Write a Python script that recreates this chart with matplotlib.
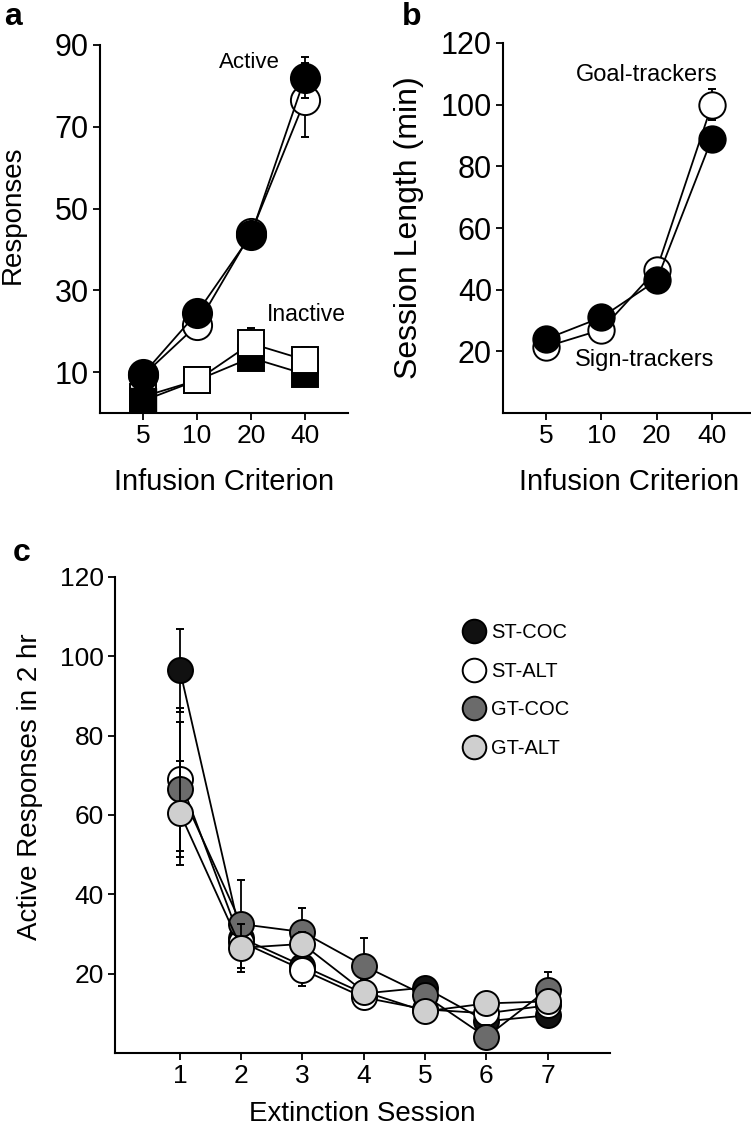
import numpy as np
import matplotlib
matplotlib.use("Agg")
import matplotlib.pyplot as plt
from matplotlib.lines import Line2D

plt.rcParams['font.family'] = ['Liberation Sans', 'DejaVu Sans']

# panel a / b : infusion criterion
criterion = ['5', '10', '20', '40']

active_st = [9.5, 24.5, 43.5, 82]
active_st_err = [1, 2, 2, 5]
active_gt = [9.2, 21.5, 44, 76.5]
active_gt_err = [1, 2, 2, 9]
inactive_st = [3, 8, 13.5, 9.5]
inactive_st_err = [0.5, 0.5, 1, 1]
inactive_gt = [4, 8, 17, 13]
inactive_gt_err = [0.5, 1, 3.8, 3.2]

session_st = [24, 31, 43, 89]
session_st_err = [1, 1, 2, 3]
session_gt = [21.5, 27, 46.5, 100]
session_gt_err = [1, 1, 2, 5]

# panel c : extinction
sessions = [1, 2, 3, 4, 5, 6, 7]
st_coc = [96.5, 29, 22, 15, 16.5, 8, 9.5]
st_coc_err = [10.5, 3, 3, 2, 2, 2, 2]
st_alt = [69, 28, 21, 14, 11, 10, 12]
st_alt_err = [18, 4, 4, 3, 2, 2, 2]
gt_coc = [66.5, 32.5, 30.5, 22, 14.5, 4, 16]
gt_coc_err = [17, 11, 6, 7, 3, 3, 4.5]
gt_alt = [60.5, 26.5, 27.5, 15.5, 10.5, 12.5, 13]
gt_alt_err = [13, 6, 3, 3, 2, 2, 2]
group_names = ['ST-COC', 'ST-ALT', 'GT-COC', 'GT-ALT']
group_colors = ['#111111', 'white', '#6b6b6b', '#cfcfcf']

W, H = 751, 1133
fig = plt.figure(figsize=(W / 100, H / 100), dpi=100)


def box(l, t, r, b):
    return [l / W, 1 - b / H, (r - l) / W, (b - t) / H]


def style(ax, tsize):
    for s in ['top', 'right']:
        ax.spines[s].set_visible(False)
    for s in ['left', 'bottom']:
        ax.spines[s].set_linewidth(1.5)
    ax.tick_params(direction='out', length=5, width=1.3, labelsize=tsize, pad=3)


def series(ax, x, y, e, fc, marker='o', ms=20, z=3, up_only=False):
    if up_only:
        e = [np.zeros(len(e)), e]
    ax.errorbar(x, y, yerr=e, fmt='-', marker=marker, color='black', mfc=fc,
                mec='black', mew=1.4, ms=ms, lw=1.3, elinewidth=1.3,
                capsize=3, capthick=1.3, zorder=z)


xa = np.arange(1, len(criterion) + 1)

# ---- a
ax1 = fig.add_axes(box(100, 45, 348, 413))
style(ax1, 19)
series(ax1, xa, inactive_st, inactive_st_err, 'black', 's', 19, 3, True)
series(ax1, xa, inactive_gt, inactive_gt_err, 'white', 's', 19, 4, True)
ax1.plot(xa[:1], inactive_st[:1], 's', color='black', ms=19, zorder=4.5)
series(ax1, xa, active_gt, active_gt_err, 'white', 'o', 21, 5)
series(ax1, xa, active_st, active_st_err, 'black', 'o', 21, 6)
ax1.set_xlim(0.2, 4.8)
ax1.set_ylim(0, 90)
ax1.set_yticks([10, 30, 50, 70, 90])
ax1.set_xticks(xa)
ax1.set_xticklabels(criterion)
ax1.tick_params(axis='y', labelsize=22)
ax1.set_xlabel('Infusion Criterion', fontsize=21)
ax1.set_ylabel('Responses', fontsize=20)
ax1.yaxis.set_label_coords(-0.3, 0.54)
ax1.xaxis.set_label_coords(0.5, -0.15)
ax1.text(2.98, 85.8, 'Active', fontsize=16, ha='center', va='center', zorder=7)
ax1.text(4.03, 24, 'Inactive', fontsize=16.5, ha='center', va='center')

# ---- b
ax2 = fig.add_axes(box(503, 43, 755, 413))
style(ax2, 19)
series(ax2, xa, session_gt, session_gt_err, 'white', 'o', 19, 3)
series(ax2, xa, session_st, session_st_err, 'black', 'o', 19, 4)
ax2.set_xlim(0.22, 4.78)
ax2.set_ylim(0, 120)
ax2.set_yticks([20, 40, 60, 80, 100, 120])
ax2.set_xticks(xa)
ax2.set_xticklabels(criterion)
ax2.tick_params(axis='y', labelsize=22)
ax2.set_xlabel('Infusion Criterion', fontsize=21)
ax2.set_ylabel('Session Length (min)', fontsize=23)
ax2.yaxis.set_label_coords(-0.315, 0.5)
ax2.xaxis.set_label_coords(0.5, -0.15)
ax2.text(2.82, 109.7, 'Goal-trackers', fontsize=17, ha='center', va='center')
ax2.text(2.79, 17.2, 'Sign-trackers', fontsize=17, ha='center', va='center')

# ---- c
ax3 = fig.add_axes(box(115, 577, 610, 1053))
style(ax3, 19)
vals = [st_coc, st_alt, gt_coc, gt_alt]
errs = [st_coc_err, st_alt_err, gt_coc_err, gt_alt_err]
for i in range(4):
    series(ax3, sessions, vals[i], errs[i], group_colors[i], 'o', 18, 3 + i)
ax3.set_xlim(-0.06, 8.02)
ax3.set_ylim(0, 120)
ax3.set_yticks([20, 40, 60, 80, 100, 120])
ax3.set_xticks(sessions)
ax3.set_xlabel('Extinction Session', fontsize=20)
ax3.set_ylabel('Active Responses in 2 hr', fontsize=20)
ax3.yaxis.set_label_coords(-0.145, 0.56)
ax3.xaxis.set_label_coords(0.5, -0.1)
handles = [Line2D([], [], ls='none', marker='o', ms=17, mfc=c, mec='black', mew=1.4)
           for c in group_colors]
ax3.legend(handles, group_names, loc='upper left', bbox_to_anchor=(0.685, 0.92),
           frameon=False, fontsize=14.5, handletextpad=0.25, labelspacing=0.97,
           handlelength=1.2, borderaxespad=0)

fig.text(13 / W, 1 - 25 / H, 'a', fontsize=23, fontweight='bold', ha='center', va='baseline')
fig.text(412 / W, 1 - 25 / H, 'b', fontsize=23, fontweight='bold', ha='center', va='baseline')
fig.text(22 / W, 1 - 561 / H, 'c', fontsize=23, fontweight='bold', ha='center', va='baseline')

fig.savefig('out.png', dpi=100)
